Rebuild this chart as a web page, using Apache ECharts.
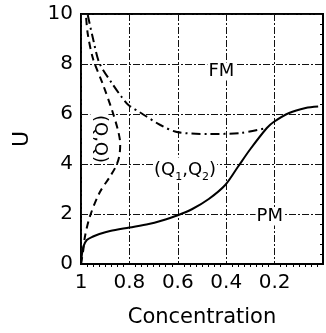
<!DOCTYPE html>
<html><head><meta charset="utf-8">
<script src="https://cdn.jsdelivr.net/npm/echarts@6/dist/echarts.min.js"></script>
<style>html,body{margin:0;padding:0;background:#fff}#c{width:326px;height:333px}</style>
</head><body><div id="c"></div>
<script>
// Tick values
const xTicks = [1, 0.8, 0.6, 0.4, 0.2];
const yTicks = [0, 2, 4, 6, 8, 10];
// Solid boundary (PM / FM)
const solidCurve = [[1,0],[0.996,0.4],[0.99,0.7],[0.976,0.96],[0.95,1.1],[0.924,1.2],[0.88,1.32],[0.8,1.46],[0.72,1.6],[0.672,1.72],[0.6,1.95],[0.54,2.2],[0.472,2.6],[0.404,3.16],[0.352,3.88],[0.3,4.6],[0.232,5.44],[0.204,5.68],[0.14,6.04],[0.072,6.24],[0.02,6.3]];
// Dash-dot boundary (FM)
const dashDotCurve = [[0.972,9.96],[0.95,9.0],[0.924,8.04],[0.87,7.2],[0.832,6.68],[0.804,6.36],[0.752,6.04],[0.672,5.56],[0.604,5.28],[0.472,5.2],[0.34,5.24],[0.232,5.44]];
// Dashed boundary (Q,Q)
const dashedCurve = [[1,0],[0.99,0.6],[0.984,1.08],[0.964,1.88],[0.924,2.84],[0.88,3.5],[0.856,3.9],[0.842,4.3],[0.838,4.8],[0.846,5.3],[0.87,6.1],[0.91,7.2],[0.95,8.2],[0.972,9.2],[0.98,10]];
// Region labels
const regionLabels = [
  {name:'FM', value:[0.42,7.7], rotate:0},
  {name:'PM', value:[0.22,1.9], rotate:0},
  {name:'{a|(Q}{s|1}{a|,Q}{s|2}{a|)}', value:[0.57,3.76], rotate:0},
  {name:'(Q,Q)', value:[0.924,5.0], rotate:-90}
];

const FONT = 'DejaVu Sans, Arial, sans-serif';
const chart = echarts.init(document.getElementById('c'));
chart.setOption({
  animation:false,
  grid:{left:81, right:-5, top:14, bottom:69, show:true, borderColor:'#000', borderWidth:2},
  xAxis:{type:'value', inverse:true, min:0, max:1, interval:0.2,
    name:'Concentration', nameLocation:'middle', nameGap:43,
    nameTextStyle:{fontSize:21, color:'#000', fontFamily:FONT},
    axisLine:{lineStyle:{color:'#000', width:2}},
    axisTick:{show:false},
    minorTick:{show:true, splitNumber:8, length:3, lineStyle:{color:'#000'}},
    axisLabel:{fontSize:20, margin:9, color:'#000', fontFamily:FONT, formatter:v=> xTicks.includes(+v.toFixed(2)) ? String(+v.toFixed(2)) : ''},
    splitLine:{show:true, lineStyle:{color:'#111', width:1, type:[7,2,2,2]}}
  },
  yAxis:{type:'value', min:0, max:10, interval:2,
    name:'U', nameLocation:'middle', nameGap:48,
    nameTextStyle:{fontSize:22, color:'#000', fontFamily:FONT},
    axisLine:{lineStyle:{color:'#000', width:2}},
    axisTick:{show:false},
    minorTick:{show:true, splitNumber:5, length:3, lineStyle:{color:'#000'}},
    axisLabel:{fontSize:20, margin:8, color:'#000', fontFamily:FONT, formatter:v=> yTicks.includes(v) ? String(v) : ''},
    splitLine:{show:true, lineStyle:{color:'#111', width:1, type:[7,2,2,2]}}
  },
  series:[
    {type:'line', data:solidCurve, smooth:0.3, symbol:'none', lineStyle:{color:'#000', width:2}},
    {type:'line', data:dashDotCurve, smooth:0.3, symbol:'none', lineStyle:{color:'#000', width:2, type:[9,4,2,4]}},
    {type:'line', data:dashedCurve, smooth:0.3, symbol:'none', lineStyle:{color:'#000', width:2, type:[7,5]}},
    {type:'scatter', symbolSize:0, z:5, itemStyle:{opacity:1, color:'#000'},
      data:regionLabels.map(d=>({name:d.name, value:d.value, label:{rotate:d.rotate}})),
      label:{show:true, position:'inside', formatter:p=>p.name, fontSize:18,
        backgroundColor:'#fff', padding:[0,1], color:'#000', fontFamily:FONT, textBorderWidth:0,
        rich:{a:{fontSize:18, color:'#000', fontFamily:FONT}, s:{fontSize:11, color:'#000', fontFamily:FONT, verticalAlign:'bottom', padding:[14,0,0,0]}}}
    }
  ]
});
</script></body></html>
